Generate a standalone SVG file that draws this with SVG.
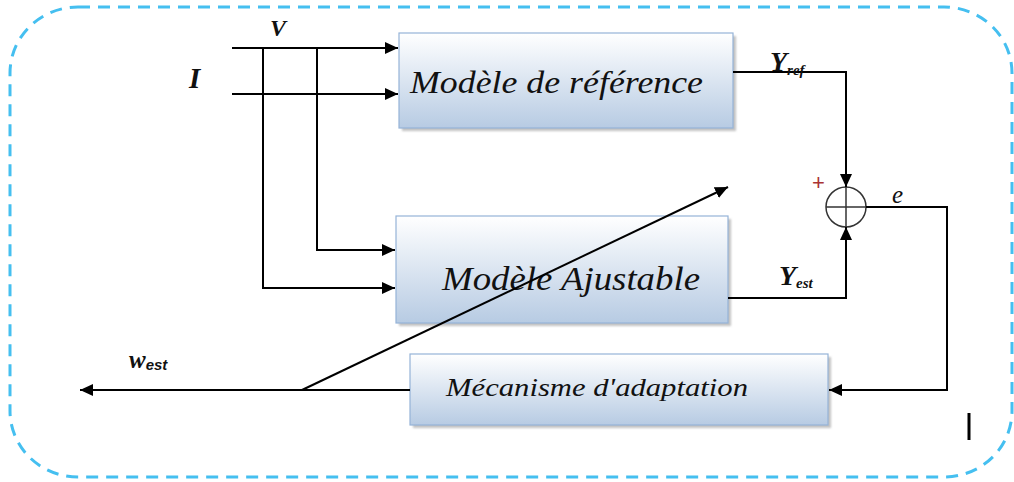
<svg xmlns="http://www.w3.org/2000/svg" width="1014" height="482" viewBox="0 0 1014 482">
<style>
.box{stroke:#95b3d7;stroke-width:1.2;fill:url(#g)}
.shadow{fill:#9a9a9a;opacity:0.6}
.ln{fill:none;stroke:#000;stroke-width:2}
.lbl{font-family:"Liberation Serif",serif;font-style:italic;fill:#111}
.var{font-family:"Liberation Serif",serif;font-style:italic;font-weight:bold;fill:#111}
</style>
<defs>
<linearGradient id="g" x1="0" y1="0" x2="0" y2="1">
<stop offset="0" stop-color="#ffffff"/>
<stop offset="1" stop-color="#b7cbe3"/>
</linearGradient>
<filter id="blur" x="-5%" y="-5%" width="110%" height="110%"><feGaussianBlur stdDeviation="1.2"/></filter>
<marker id="ah" markerUnits="userSpaceOnUse" markerWidth="14" markerHeight="12" refX="13" refY="6" orient="auto">
<path d="M0,0 L13,6 L0,12 z" fill="#000"/>
</marker>
</defs>
<rect x="10" y="7" width="1002" height="470" rx="68" ry="66" fill="none" stroke="#45bff0" stroke-width="3" stroke-dasharray="12 8"/>

<g id="ref-model">
<rect class="shadow" x="402" y="36" width="334" height="95" filter="url(#blur)"/>
<rect class="box" x="399" y="33" width="334" height="95"/>
<text class="lbl" x="410" y="93" font-size="32" textLength="293" lengthAdjust="spacingAndGlyphs">Modèle de référence</text>
</g>
<g id="adj-model">
<rect class="shadow" x="399" y="219" width="332" height="107" filter="url(#blur)"/>
<rect class="box" x="396" y="216" width="332" height="107"/>
<text class="lbl" x="442" y="290" font-size="33" textLength="258" lengthAdjust="spacingAndGlyphs">Modèle Ajustable</text>
</g>
<g id="adapt">
<rect class="shadow" x="413" y="357" width="418" height="71" filter="url(#blur)"/>
<rect class="box" x="410" y="354" width="418" height="71"/>
<text class="lbl" x="446" y="396" font-size="26" textLength="302" lengthAdjust="spacingAndGlyphs">Mécanisme d'adaptation</text>
</g>
<g id="sum">
<circle cx="846" cy="207" r="20" fill="none" stroke="#333" stroke-width="1.5"/>
<line x1="826" y1="207" x2="866" y2="207" stroke="#333" stroke-width="1.5"/>
<line x1="846" y1="187" x2="846" y2="227" stroke="#333" stroke-width="1.5"/>
<text x="812" y="190" font-family="Liberation Sans,sans-serif" font-size="22" fill="#a33">+</text>
</g>

<g id="connectors">
<path class="ln" d="M232,48 H398" marker-end="url(#ah)"/>
<path class="ln" d="M232,94 H398" marker-end="url(#ah)"/>
<path class="ln" d="M317,48 V250 H395" marker-end="url(#ah)"/>
<path class="ln" d="M263,48 V288 H395" marker-end="url(#ah)"/>
<path class="ln" d="M733,72 H846 V187" marker-end="url(#ah)"/>
<path class="ln" d="M728,298 H846 V227" marker-end="url(#ah)"/>
<path class="ln" d="M866,207 H947 V390 H829" marker-end="url(#ah)"/>
<path class="ln" d="M410,390 H80" marker-end="url(#ah)"/>
<path class="ln" d="M302,390 L728,187" stroke-width="1.6" marker-end="url(#ah)"/>
</g>

<g id="labels">
<text class="var" x="270" y="36" font-size="24">V</text>
<text class="var" x="189" y="88" font-size="29">I</text>
<text class="var" x="770" y="71" font-size="28">Y<tspan font-size="15" dy="4">ref</tspan></text>
<text class="var" x="779" y="285" font-size="28">Y<tspan font-size="15" dy="3">est</tspan></text>
<text class="var" x="129" y="368" font-size="25">w<tspan font-size="15" dy="2" font-family="Liberation Sans,sans-serif">est</tspan></text>
<text class="lbl" x="892" y="203" font-size="25">e</text>
</g>
<line x1="969" y1="413" x2="969" y2="440" stroke="#000" stroke-width="3"/>
</svg>
